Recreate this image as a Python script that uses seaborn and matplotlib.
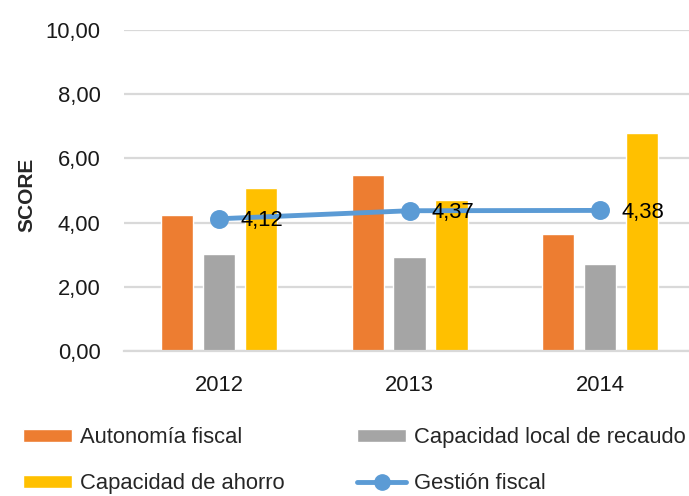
import matplotlib
matplotlib.use("Agg")
import matplotlib.pyplot as plt
import seaborn as sns
import pandas as pd
from matplotlib.patches import Patch
from matplotlib.lines import Line2D
from matplotlib import font_manager

years = ["2012", "2013", "2014"]
autonomia = [4.23, 5.48, 3.63]
capacidad_local = [3.03, 2.92, 2.71]
capacidad_ahorro = [5.07, 4.72, 6.80]
gestion = [4.12, 4.37, 4.38]
series_names = ["Autonomía fiscal", "Capacidad local de recaudo", "Capacidad de ahorro"]
line_name = "Gestión fiscal"
yticks = [0, 2, 4, 6, 8, 10]

colors = ["#ED7D31", "#A5A5A5", "#FFC000"]
line_color = "#5B9BD5"

sns.set_style("white")
names = {f.name for f in font_manager.fontManager.ttflist}
fam = "Liberation Sans Narrow" if "Liberation Sans Narrow" in names else "Liberation Sans"
plt.rcParams["font.family"] = [fam, "DejaVu Sans"]
FS = 15.8

rows = []
for name, vals in zip(series_names, [autonomia, capacidad_local, capacidad_ahorro]):
    for y, v in zip(years, vals):
        rows.append({"year": y, "serie": name, "value": v})
df = pd.DataFrame(rows)
dfl = pd.DataFrame({"year": years, "value": gestion})

fig = plt.figure(figsize=(6.89, 4.96), dpi=100)
ax = fig.add_axes([0.18, 0.2923, 0.829, 0.6472])

sns.barplot(data=df, x="year", y="value", hue="serie", hue_order=series_names,
            palette=colors, width=0.66, gap=0.23, saturation=1, ax=ax,
            legend=False, errorbar=None, zorder=2)
sns.pointplot(data=dfl, x="year", y="value", color=line_color, markers="o",
              markersize=11, linewidth=3.5, ax=ax, errorbar=None, zorder=3)

for i, v in enumerate(gestion):
    ax.annotate(f"{v:.2f}".replace(".", ","), (i, v), xytext=(15.5, -1.5),
                textcoords="offset points", ha="left", va="center",
                fontsize=FS, color="black", zorder=4)

ax.set_xlim(-0.5, 2.5)
ax.set_ylim(0, 10)
ax.set_yticks(yticks)
ax.set_yticklabels([f"{t:.2f}".replace(".", ",") for t in yticks])
ax.grid(axis="y", color="#D9D9D9", linewidth=1.6, zorder=0)
ax.set_axisbelow(True)
for s in ["top", "right", "left"]:
    ax.spines[s].set_visible(False)
ax.spines["bottom"].set_color("#D9D9D9")
ax.spines["bottom"].set_linewidth(1.6)
ax.tick_params(axis="both", length=0, labelsize=FS, colors="#1a1a1a")
ax.tick_params(axis="y", pad=17)
ax.tick_params(axis="x", pad=17)
ax.set_xlabel("")
ax.set_ylabel("SCORE", fontsize=15, fontweight="bold")
ax.yaxis.set_label_coords(-0.153, 0.486)

handles = [
    Patch(facecolor=colors[0], label=series_names[0]),
    Patch(facecolor=colors[2], label=series_names[2]),
    Patch(facecolor=colors[1], label=series_names[1]),
    Line2D([0], [0], color=line_color, lw=3.5, marker="o", markersize=11, label=line_name),
]
fig.legend(handles=handles, ncol=2, loc="center left", bbox_to_anchor=(0.033, 0.071),
           frameon=False, fontsize=FS, handlelength=2.25, handleheight=0.55,
           handletextpad=0.35, labelspacing=1.15, columnspacing=3.3,
           borderpad=0, borderaxespad=0)

fig.savefig("out.png", dpi=100)
